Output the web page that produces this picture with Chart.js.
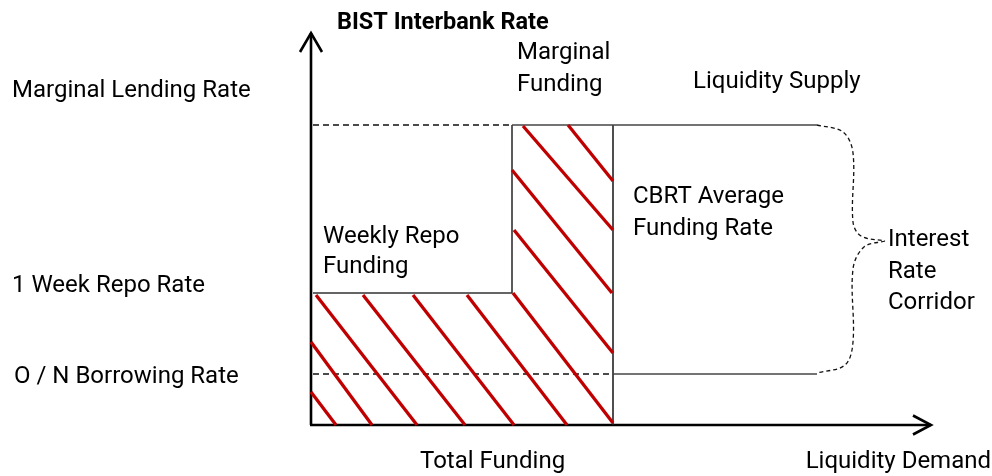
<!DOCTYPE html>
<html><head><meta charset="utf-8">
<script src="https://cdn.jsdelivr.net/npm/chart.js@4.4.0/dist/chart.umd.min.js"></script>
<style>html,body{margin:0;padding:0;background:#fff}canvas{display:block}</style>
</head><body>
<canvas id="c" width="992" height="476"></canvas>
<script>
// ---- Data (diagram units) ----
const axisMaxX = 62;
const axisMaxY = 39.2;
// policy rates (y)
const marginalLendingRate = 30.0;
const weekRepoRate = 13.2;
const onBorrowingRate = 5.1;
// funding amounts (x)
const weeklyRepoFunding = 20.1;
const totalFunding = 30.2;
const supplyEnd = 50.6;
// hatch segments (start -> end)
const hatchX1 = [0.0, 0.0, 0.5, 5.2, 10.2, 15.6, 20.2, 20.3, 20.1, 21.2, 25.7];
const hatchY1 = [3.3, 8.3, 13.0, 13.0, 13.0, 13.0, 13.2, 19.5, 25.5, 29.9, 30.0];
const hatchX2 = [2.5, 6.1, 10.6, 15.4, 20.3, 25.6, 30.2, 30.2, 30.1, 30.2, 30.2];
const hatchY2 = [0.0, 0.0, 0.0, 0.0, 0.0, 0.0, 0.2, 7.2, 13.2, 19.5, 24.4];
// interest rate corridor brace
const braceUpperX = [50.6, 53.2, 54.2, 54.2, 55.0, 57.4];
const braceUpperY = [30.0, 29.3, 27.2, 20.3, 18.9, 18.4];
const braceLowerX = [57.4, 55.3, 54.2, 54.2, 53.4, 50.6];
const braceLowerY = [18.4, 17.8, 15.6, 8.3, 6.0, 5.2];
// texts
const axisTitleY = 'BIST Interbank Rate';
const rateLabels = ['Marginal Lending Rate', '1 Week Repo Rate', 'O / N Borrowing Rate'];
const areaLabels = [['Marginal', 'Funding'], ['Liquidity Supply'], ['CBRT Average', 'Funding Rate'], ['Weekly Repo', 'Funding'], ['Interest', 'Rate', 'Corridor']];
const bottomLabels = ['Total Funding', 'Liquidity Demand'];

// ---- Build datasets ----
const pts = (xs, ys) => xs.map((x, i) => ({x, y: ys[i]}));
const seg = (data, color, width, dash, extra) => Object.assign({
  data, borderColor: color, borderWidth: width, borderDash: dash || [],
  pointRadius: 0, showLine: true, fill: false, tension: 0, clip: false
}, extra || {});

const datasets = [];
hatchX1.forEach((x, i) => {
  datasets.push(seg([{x, y: hatchY1[i]}, {x: hatchX2[i], y: hatchY2[i]}], '#c00000', 3.3));
});
// boxes & rate lines
datasets.push(seg([{x: 0.2, y: marginalLendingRate}, {x: weeklyRepoFunding, y: marginalLendingRate}], '#111', 1.4, [6, 4]));
datasets.push(seg([{x: weeklyRepoFunding, y: marginalLendingRate}, {x: supplyEnd, y: marginalLendingRate}], '#444', 1.6));
datasets.push(seg([{x: 0.2, y: onBorrowingRate}, {x: totalFunding, y: onBorrowingRate}], '#111', 1.4, [6, 4]));
datasets.push(seg([{x: totalFunding, y: onBorrowingRate}, {x: supplyEnd, y: onBorrowingRate}], '#444', 1.6));
datasets.push(seg([{x: 0.2, y: weekRepoRate}, {x: weeklyRepoFunding, y: weekRepoRate}, {x: weeklyRepoFunding, y: marginalLendingRate}], '#333', 1.6));
datasets.push(seg([{x: totalFunding, y: 0}, {x: totalFunding, y: marginalLendingRate}], '#222', 1.6));
// brace
datasets.push(seg(pts(braceUpperX, braceUpperY), '#111', 1.3, [4, 3], {tension: 0.35}));
datasets.push(seg(pts(braceLowerX, braceLowerY), '#111', 1.3, [4, 3], {tension: 0.35}));
// axes with arrowheads
datasets.push(seg([{x: 0, y: 0}, {x: 0, y: axisMaxY}], '#000', 2.6));
datasets.push(seg([{x: -1.1, y: axisMaxY - 1.9}, {x: 0, y: axisMaxY}, {x: 1.1, y: axisMaxY - 1.9}], '#000', 2.6, [], {borderJoinStyle: 'miter'}));
datasets.push(seg([{x: -0.1, y: 0}, {x: axisMaxX, y: 0}], '#000', 2.6));
datasets.push(seg([{x: axisMaxX - 1.8, y: 0.95}, {x: axisMaxX, y: 0}, {x: axisMaxX - 1.8, y: -0.95}], '#000', 2.6, [], {borderJoinStyle: 'miter'}));

// ---- Text layout (anchors in diagram units) ----
const textItems = [
  {lines: [axisTitleY], x: 2.6, y: 39.6, bold: true, size: 23.5},
  {lines: [rateLabels[0]], x: -29.9, y: 32.8},
  {lines: [rateLabels[1]], x: -29.9, y: 13.3},
  {lines: [rateLabels[2]], x: -29.7, y: 4.2},
  {lines: areaLabels[0], x: 20.6, y: 36.6},
  {lines: areaLabels[1], x: 38.2, y: 33.7},
  {lines: areaLabels[2], x: 32.2, y: 22.2},
  {lines: areaLabels[3], x: 1.2, y: 18.2, lh: 2.95},
  {lines: areaLabels[4], x: 57.7, y: 17.9},
  {lines: [bottomLabels[0]], x: 10.9, y: -4.3},
  {lines: [bottomLabels[1]], x: 68.0, y: -4.3, align: 'right'}
];

const textPlugin = {
  id: 'diagramText',
  afterDatasetsDraw(chart) {
    const {ctx, scales: {x, y}} = chart;
    ctx.save();
    ctx.fillStyle = '#000';
    ctx.textBaseline = 'alphabetic';
    textItems.forEach(t => {
      const size = t.size || 24;
      ctx.font = (t.bold ? 'bold ' : '') + size + 'px Roboto';
      ctx.textAlign = t.align || 'left';
      const lh = t.lh || 3.15;
      t.lines.forEach((s, i) => {
        ctx.fillText(s, x.getPixelForValue(t.x), y.getPixelForValue(t.y - i * lh));
      });
    });
    ctx.restore();
  }
};

new Chart(document.getElementById('c'), {
  type: 'scatter',
  data: {datasets},
  options: {
    responsive: false,
    animation: false,
    devicePixelRatio: 1,
    layout: {padding: {left: 311, right: 61, top: 33, bottom: 51}},
    scales: {
      x: {type: 'linear', min: 0, max: axisMaxX, display: false},
      y: {type: 'linear', min: 0, max: axisMaxY, display: false}
    },
    plugins: {legend: {display: false}, tooltip: {enabled: false}, title: {display: false}}
  },
  plugins: [textPlugin]
});
</script>
</body></html>
